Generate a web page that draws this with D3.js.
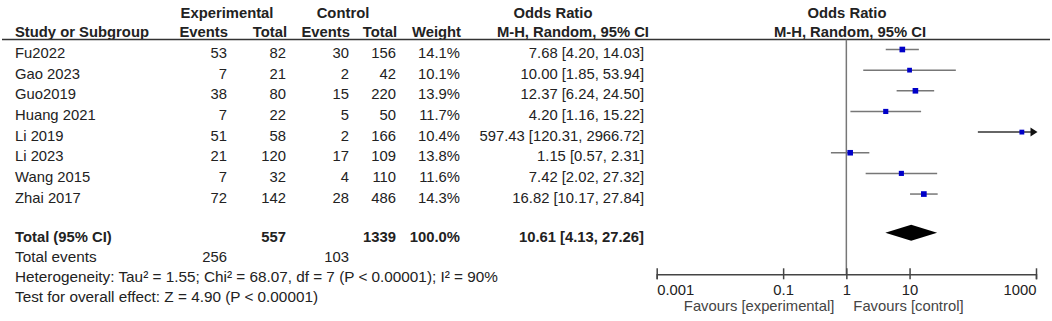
<!DOCTYPE html>
<html>
<head>
<meta charset="utf-8">
<script src="https://cdn.jsdelivr.net/npm/d3@7"></script>
<style>
  body { margin: 0; background: #fff; }
  text { font-family: "Liberation Sans", Arial, sans-serif; font-size: 14.8px; fill: #222; }
  .foot { font-size: 15.3px; }
</style>
</head>
<body>
<svg id="forest"></svg>
<script>
// study level data
const studies = ["Fu2022", "Gao 2023", "Guo2019", "Huang 2021", "Li 2019", "Li 2023", "Wang 2015", "Zhai 2017"];
const expEvents = [53, 7, 38, 7, 51, 21, 7, 72];
const expTotal = [82, 21, 80, 22, 58, 120, 32, 142];
const ctrlEvents = [30, 2, 15, 5, 2, 17, 4, 28];
const ctrlTotal = [156, 42, 220, 50, 166, 109, 110, 486];
const weights = [14.1, 10.1, 13.9, 11.7, 10.4, 13.8, 11.6, 14.3];
const oddsRatio = [7.68, 10.00, 12.37, 4.20, 597.43, 1.15, 7.42, 16.82];
const ciLow = [4.20, 1.85, 6.24, 1.16, 120.31, 0.57, 2.02, 10.17];
const ciHigh = [14.03, 53.94, 24.50, 15.22, 2966.72, 2.31, 27.32, 27.84];

// pooled result
const totalExp = 557;
const totalCtrl = 1339;
const totalEventsExp = 256;
const totalEventsCtrl = 103;
const pooledOR = 10.61;
const pooledLow = 4.13;
const pooledHigh = 27.26;
const heterogeneityText = "Heterogeneity: Tau² = 1.55; Chi² = 68.07, df = 7 (P < 0.00001); I² = 90%";
const overallText = "Test for overall effect: Z = 4.90 (P < 0.00001)";

const axisTicks = [0.001, 0.1, 1, 10, 1000];

const width = 1052;
const height = 321;
const svg = d3.select("#forest").attr("width", width).attr("height", height);

const f2 = d3.format(".2f");
const rowY = i => 58 + i * 20.65;   // text baseline of study rows
const totalY = 241.5;
const headerLineY = 39.5;
const axisY = 274.3;

const x = d3.scaleLog().domain([0.001, 1000]).range([656.7, 1036]);

// header
const hdr = svg.append("g").style("font-weight", "bold");
hdr.append("text").attr("x", 227).attr("y", 17.5).attr("text-anchor", "middle").text("Experimental");
hdr.append("text").attr("x", 343).attr("y", 17.5).attr("text-anchor", "middle").text("Control");
hdr.append("text").attr("x", 553).attr("y", 17.5).attr("text-anchor", "middle").text("Odds Ratio");
hdr.append("text").attr("x", 847).attr("y", 17.5).attr("text-anchor", "middle").text("Odds Ratio");
hdr.append("text").attr("x", 15).attr("y", 37).text("Study or Subgroup");
hdr.append("text").attr("x", 228).attr("y", 37).attr("text-anchor", "end").text("Events");
hdr.append("text").attr("x", 287).attr("y", 37).attr("text-anchor", "end").text("Total");
hdr.append("text").attr("x", 350).attr("y", 37).attr("text-anchor", "end").text("Events");
hdr.append("text").attr("x", 397).attr("y", 37).attr("text-anchor", "end").text("Total");
hdr.append("text").attr("x", 461).attr("y", 37).attr("text-anchor", "end").text("Weight");
hdr.append("text").attr("x", 649).attr("y", 37).attr("text-anchor", "end").text("M-H, Random, 95% CI");
hdr.append("text").attr("x", 850).attr("y", 37).attr("text-anchor", "middle").text("M-H, Random, 95% CI");

svg.append("line")
  .attr("x1", 2).attr("x2", 1050)
  .attr("y1", headerLineY).attr("y2", headerLineY)
  .attr("stroke", "#333").attr("stroke-width", 1.5);

// table columns (right aligned)
const cols = [
  { x: 227, vals: expEvents },
  { x: 286, vals: expTotal },
  { x: 349, vals: ctrlEvents },
  { x: 396, vals: ctrlTotal },
  { x: 460, vals: weights.map(w => w.toFixed(1) + "%") },
  { x: 644, vals: oddsRatio.map((d, i) => `${f2(d)} [${f2(ciLow[i])}, ${f2(ciHigh[i])}]`) }
];

svg.selectAll(".study")
  .data(studies)
  .enter().append("text")
  .attr("class", "study")
  .attr("x", 15)
  .attr("y", (d, i) => rowY(i))
  .text(d => d);

cols.forEach(c => {
  svg.append("g").selectAll("text")
    .data(c.vals)
    .enter().append("text")
    .attr("x", c.x)
    .attr("y", (d, i) => rowY(i))
    .attr("text-anchor", "end")
    .text(d => d);
});

// total rows
const tot = svg.append("g").style("font-weight", "bold");
tot.append("text").attr("x", 15).attr("y", totalY).text("Total (95% CI)");
tot.append("text").attr("x", 286).attr("y", totalY).attr("text-anchor", "end").text(totalExp);
tot.append("text").attr("x", 396).attr("y", totalY).attr("text-anchor", "end").text(totalCtrl);
tot.append("text").attr("x", 460).attr("y", totalY).attr("text-anchor", "end").text("100.0%");
tot.append("text").attr("x", 644).attr("y", totalY).attr("text-anchor", "end")
  .text(`${f2(pooledOR)} [${f2(pooledLow)}, ${f2(pooledHigh)}]`);

svg.append("text").attr("class", "foot").attr("x", 15).attr("y", 261.5).text("Total events");
svg.append("text").attr("x", 227).attr("y", 261.5).attr("text-anchor", "end").text(totalEventsExp);
svg.append("text").attr("x", 349).attr("y", 261.5).attr("text-anchor", "end").text(totalEventsCtrl);
svg.append("text").attr("class", "foot").attr("x", 15).attr("y", 281.5).text(heterogeneityText);
svg.append("text").attr("class", "foot").attr("x", 15).attr("y", 301.5).text(overallText);

// line of no effect
svg.append("line")
  .attr("x1", x(1)).attr("x2", x(1))
  .attr("y1", headerLineY).attr("y2", axisY)
  .attr("stroke", "#777").attr("stroke-width", 1.5);

// confidence intervals
const maxX = x.domain()[1];
const markY = i => rowY(i) - 8.5;

svg.append("g").selectAll("line")
  .data(studies)
  .enter().append("line")
  .attr("x1", (d, i) => x(Math.max(ciLow[i], x.domain()[0])))
  .attr("x2", (d, i) => ciHigh[i] > maxX ? x(maxX) - 4 : x(ciHigh[i]))
  .attr("y1", (d, i) => markY(i))
  .attr("y2", (d, i) => markY(i))
  .attr("stroke", (d, i) => ciHigh[i] > maxX ? "#333" : "#777")
  .attr("stroke-width", 1.5);

// arrows for intervals off the scale
studies.forEach((d, i) => {
  if (ciHigh[i] > maxX) {
    const xe = x(maxX) + 1.5;
    const y = markY(i);
    svg.append("path")
      .attr("d", `M${xe},${y} L${xe - 7},${y - 4.5} L${xe - 7},${y + 4.5} Z`)
      .attr("fill", "#111");
  }
});

// weighted squares
svg.append("g").selectAll("rect")
  .data(studies)
  .enter().append("rect")
  .attr("x", (d, i) => x(oddsRatio[i]) - 1.5 * Math.sqrt(weights[i]) / 2)
  .attr("y", (d, i) => markY(i) - 1.5 * Math.sqrt(weights[i]) / 2)
  .attr("width", (d, i) => 1.5 * Math.sqrt(weights[i]))
  .attr("height", (d, i) => 1.5 * Math.sqrt(weights[i]))
  .attr("fill", "#0000c8");

// pooled diamond
const dY = 232.8;
svg.append("path")
  .attr("d", `M${x(pooledLow)},${dY} L${x(pooledOR)},${dY - 8} L${x(pooledHigh)},${dY} L${x(pooledOR)},${dY + 8} Z`)
  .attr("fill", "#000");

// axis
const gAxis = svg.append("g")
  .attr("transform", `translate(0,${axisY})`)
  .call(d3.axisBottom(x).tickValues(axisTicks).tickSizeOuter(0).tickSize(5).tickFormat(d => String(d)));

gAxis.select(".domain").attr("stroke", "#444").attr("stroke-width", 1.5);
gAxis.selectAll(".tick line").attr("y1", -6).attr("y2", 5).attr("stroke", "#444").attr("stroke-width", 1.5);
gAxis.selectAll(".tick text")
  .attr("y", 10.5)
  .style("font-size", "14.8px")
  .style("font-family", "\"Liberation Sans\", Arial, sans-serif")
  .attr("fill", "#222")
  .attr("text-anchor", (d, i) => i === 0 ? "start" : (i === axisTicks.length - 1 ? "end" : "middle"));

svg.append("text").attr("x", x(1) - 12).attr("y", 311).attr("text-anchor", "end")
  .style("fill", "#444").text("Favours [experimental]");
svg.append("text").attr("x", x(1) + 7).attr("y", 311)
  .style("fill", "#444").text("Favours [control]");
</script>
</body>
</html>
